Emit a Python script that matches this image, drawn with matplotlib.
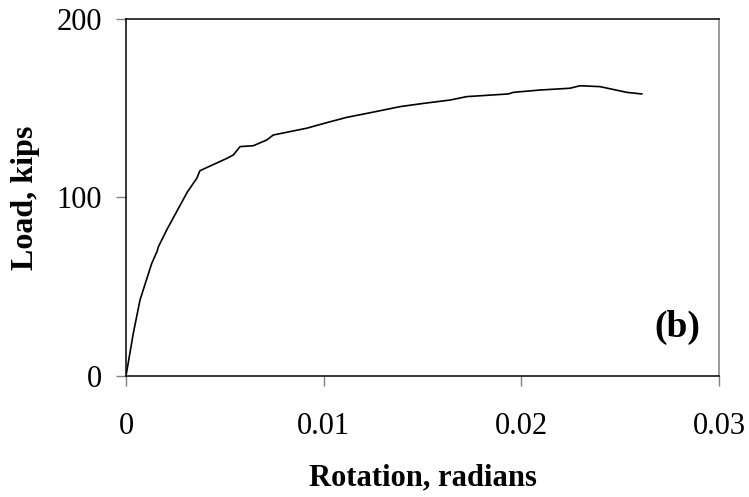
import matplotlib
matplotlib.use("Agg")
import matplotlib.pyplot as plt

# load-rotation curve
rotation = [0.0, 0.00037, 0.00071, 0.0013, 0.00158, 0.00164, 0.00206, 0.00256,
            0.0031, 0.00335, 0.00358, 0.00374, 0.0051, 0.00543, 0.00577,
            0.00644, 0.00712, 0.00745, 0.00914, 0.01015, 0.01117, 0.01218,
            0.01285, 0.01386, 0.01504, 0.0164, 0.01723, 0.01934, 0.0196,
            0.02094, 0.02246, 0.02297, 0.02398, 0.02533, 0.02609]
load = [0.0, 23.9, 42.6, 63.0, 70.0, 72.4, 81.8, 92.0,
        103.0, 107.0, 110.7, 115.0, 121.9, 123.8, 128.5,
        129.0, 132.2, 135.0, 138.8, 141.9, 144.9, 147.1,
        148.6, 150.9, 152.7, 154.6, 156.5, 158.0, 158.9,
        160.2, 161.2, 162.6, 162.1, 158.9, 158.0]

x_ticks = [0, 0.01, 0.02, 0.03]
x_labels = ["0", "0.01", "0.02", "0.03"]
y_ticks = [0, 100, 200]

plt.rcParams['font.family'] = ['Liberation Serif', 'DejaVu Serif']

fig = plt.figure(figsize=(7.49, 4.97), dpi=100)
ax = fig.add_axes([0.1682, 0.2435, 0.7918, 0.7183])
ax.plot(rotation, load, color='black', linewidth=1.2)

ax.set_xlim(0, 0.03)
ax.set_ylim(0, 200)
ax.set_xticks(x_ticks)
ax.set_xticklabels(x_labels)
ax.set_yticks(y_ticks)
ax.tick_params(direction='out', length=7, width=1, color='#808080',
               labelsize=22)
ax.tick_params(axis='x', pad=19)
ax.tick_params(axis='y', pad=10)

for side in ['left', 'bottom', 'top']:
    ax.spines[side].set_color('black')
ax.spines['right'].set_color('#808080')
for s in ax.spines.values():
    s.set_linewidth(1.1)

ax.set_xlabel('Rotation, radians', fontsize=22, fontweight='bold', labelpad=16)
ax.set_ylabel('Load, kips', fontsize=23, fontweight='bold', labelpad=12)

ax.text(0.929, 0.137, '(b)', transform=ax.transAxes, fontsize=27,
        fontweight='bold', ha='center', va='center')

fig.savefig('out.png', dpi=100)
